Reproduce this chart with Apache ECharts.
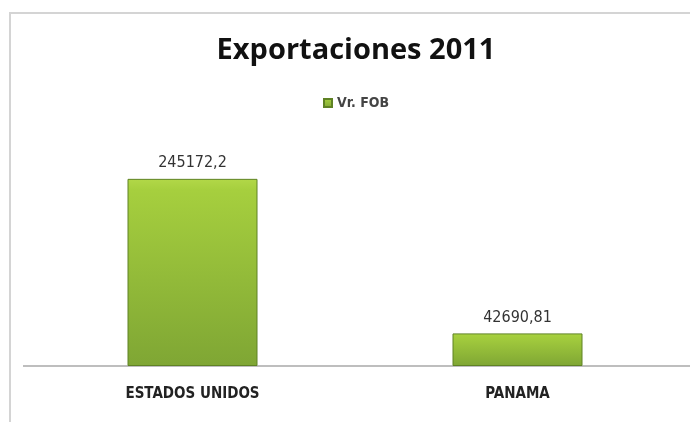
<!DOCTYPE html>
<html>
<head>
<meta charset="utf-8">
<script src="https://cdn.jsdelivr.net/npm/echarts@6/dist/echarts.min.js"></script>
<style>
  html, body { margin: 0; padding: 0; background: #ffffff; }
  #chart { width: 690px; height: 422px; }
</style>
</head>
<body>
<div id="chart"></div>
<script>
// Export destinations and their FOB values for 2011
const categories = ['ESTADOS UNIDOS', 'PANAMA'];
const fobValues = [245172.2, 42690.81];
const seriesName = 'Vr. FOB';
const titleText = 'Exportaciones 2011';

const narrowFont = '"DejaVu Sans Condensed", "Roboto Condensed", Roboto, sans-serif';

const chart = echarts.init(document.getElementById('chart'), null, { renderer: 'canvas' });

const barFill = new echarts.graphic.LinearGradient(0, 0, 0, 1, [
  { offset: 0, color: '#b2d848' },
  { offset: 0.06, color: '#a6cf3e' },
  { offset: 1, color: '#7fa634' }
]);

const gridTop = 137;
const gridBottom = 56;
const axisY = 422 - gridBottom;

chart.setOption({
  backgroundColor: '#ffffff',
  animation: false,
  title: {
    text: titleText,
    left: 351,
    textAlign: 'center',
    top: 31,
    textStyle: {
      fontFamily: 'Open Sans',
      fontWeight: 'bold',
      fontSize: 29,
      color: '#111111'
    }
  },
  legend: {
    data: [seriesName],
    top: 91,
    left: 318,
    itemWidth: 8,
    itemHeight: 8,
    itemGap: 4,
    icon: 'rect',
    textStyle: {
      fontFamily: narrowFont,
      fontSize: 14,
      fontWeight: 'bold',
      color: '#444444'
    }
  },
  graphic: [
    {
      type: 'rect',
      shape: { x: 10, y: 13, width: 700, height: 430 },
      style: { fill: 'none', stroke: '#d4d4d4', lineWidth: 2 },
      silent: true
    },
    {
      // baseline running the full width of the plot frame
      type: 'line',
      shape: { x1: 23, y1: axisY, x2: 690, y2: axisY },
      style: { stroke: '#a8a8a8', lineWidth: 1.5 },
      silent: true,
      z: 0
    }
  ],
  grid: { left: 30, right: 10, top: gridTop, bottom: gridBottom },
  xAxis: {
    type: 'category',
    data: categories,
    axisLine: { show: false },
    axisTick: { show: false },
    axisLabel: {
      margin: 21,
      fontFamily: narrowFont,
      fontWeight: 'bold',
      fontSize: 15,
      color: '#222222'
    }
  },
  yAxis: {
    type: 'value',
    min: 0,
    max: 300000,
    show: false,
    splitLine: { show: false }
  },
  series: [
    {
      name: seriesName,
      type: 'bar',
      data: fobValues,
      barWidth: '40%',
      itemStyle: {
        color: barFill,
        borderColor: '#5f8224',
        borderWidth: 1
      },
      label: {
        show: true,
        position: 'top',
        distance: 8,
        fontFamily: narrowFont,
        fontSize: 16,
        color: '#333333',
        formatter: p => String(p.value).replace('.', ',')
      }
    }
  ]
});
</script>
</body>
</html>
